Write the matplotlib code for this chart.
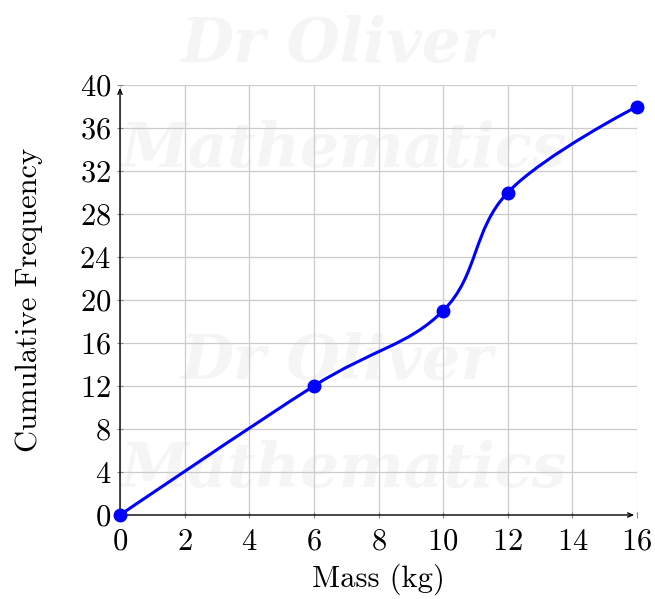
import numpy as np
import matplotlib
matplotlib.use("Agg")
import matplotlib.pyplot as plt
from matplotlib.path import Path
from matplotlib.patches import PathPatch

plt.rcParams['font.family'] = 'serif'
plt.rcParams['font.serif'] = ['cmr10', 'DejaVu Serif']
plt.rcParams['axes.formatter.use_mathtext'] = True
plt.rcParams['mathtext.fontset'] = 'cm'

# data
mass = [0, 6, 10, 12, 16]
cum_freq = [0, 12, 19, 30, 38]
x_ticks = [0, 2, 4, 6, 8, 10, 12, 14, 16]
y_ticks = [0, 4, 8, 12, 16, 20, 24, 28, 32, 36, 40]

fig = plt.figure(figsize=(6.55, 5.99), dpi=100)

# watermark
wm = dict(color='#f5f5f5', fontsize=44, fontweight='bold', style='italic',
          family='DejaVu Serif', ha='center', va='center', zorder=-5)
fig.text(0.515, 0.925, 'Dr Oliver', **wm)
fig.text(0.525, 0.75, 'Mathematics', **wm)
fig.text(0.515, 0.395, 'Dr Oliver', **wm)
fig.text(0.525, 0.215, 'Mathematics', **wm)

ax = fig.add_axes([120/655, 84/599, 517/655, 430/599])
ax.patch.set_alpha(0)
ax.set_xlim(0, 16)
ax.set_ylim(0, 40)
ax.set_xticks(x_ticks)
ax.set_yticks(y_ticks)
ax.grid(True, color='#cccccc', linewidth=0.9)
ax.set_axisbelow(True)
for s in ax.spines.values():
    s.set_visible(False)
ax.tick_params(direction='inout', length=5, color='#888888', labelsize=22)
ax.tick_params(axis='x', pad=7)
ax.tick_params(axis='y', pad=4)

# axis lines with arrows
ax.annotate('', xy=(0, 1.0), xytext=(0, 0), xycoords='axes fraction',
            arrowprops=dict(arrowstyle='->,head_length=0.35,head_width=0.15', lw=1, color='black'))
ax.annotate('', xy=(1.0, 0), xytext=(0, 0), xycoords='axes fraction',
            arrowprops=dict(arrowstyle='->,head_length=0.35,head_width=0.15', lw=1, color='black'))

# smooth curve like tikz "smooth" (tension 0.55)
pts = np.column_stack([mass, cum_freq]).astype(float)
t = 0.55 / 3
verts = [pts[0]]
codes = [Path.MOVETO]
n = len(pts)
for i in range(n - 1):
    p0 = pts[i - 1] if i > 0 else pts[i]
    p1, p2 = pts[i], pts[i + 1]
    p3 = pts[i + 2] if i + 2 < n else pts[i + 1]
    c1 = p1 + t * (p2 - p0) if i > 0 else p1
    c2 = p2 - t * (p3 - p1) if i + 2 < n else p2
    verts += [c1, c2, p2]
    codes += [Path.CURVE4] * 3
ax.add_patch(PathPatch(Path(verts, codes), fill=False, edgecolor='#0000ff',
                       lw=2.2, clip_on=False, zorder=3))
ax.plot(mass, cum_freq, 'o', color='#0000ff', markersize=9, clip_on=False, zorder=4)

ax.set_xlabel('Mass (kg)', fontsize=22, labelpad=6)
ax.set_ylabel('Cumulative Frequency', fontsize=22, labelpad=26)

fig.savefig('out.png', dpi=100)
